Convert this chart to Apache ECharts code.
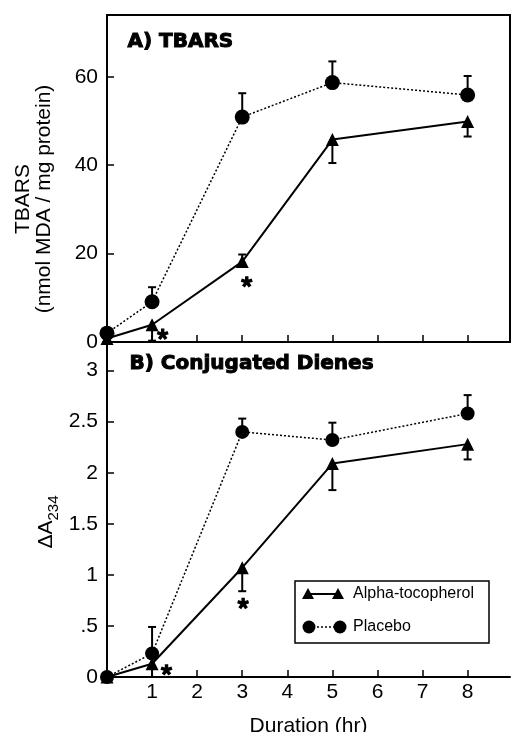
<!DOCTYPE html>
<html>
<head>
<meta charset="utf-8">
<script src="https://cdn.jsdelivr.net/npm/echarts@6/dist/echarts.min.js"></script>
<style>html,body{margin:0;padding:0;background:#fff;}#c{width:512px;height:732px;}</style>
</head>
<body>
<div id="c"></div>
<script>
const hours = [0, 1, 3, 5, 8];
const xTicks = [1, 2, 3, 4, 5, 6, 7, 8];
const tbarsTicks = [0, 20, 40, 60];
const dieneTicks = [0, 0.5, 1, 1.5, 2, 2.5, 3];

const tbarsPlacebo = [2.0, 9.1, 50.9, 58.7, 55.9];
const tbarsPlaceboErrEnd = [null, 12.4, 56.3, 63.5, 60.2];
const tbarsAlpha = [0.8, 3.9, 18.2, 45.8, 49.9];
const tbarsAlphaErrEnd = [null, 0.3, 19.8, 40.5, 46.5];

const dienePlacebo = [0, 0.23, 2.40, 2.32, 2.58];
const dienePlaceboErrEnd = [null, 0.49, 2.53, 2.49, 2.76];
const dieneAlpha = [0, 0.13, 1.07, 2.09, 2.28];
const dieneAlphaErrEnd = [null, 0.0, 0.84, 1.83, 2.13];

const tbarsStars = [[1.235, 1.75], [3.10, 13.6]];
const dieneStars = [[1.32, 0.07], [3.02, 0.72]];

const FONT = '"Liberation Sans", Arial, Helvetica, sans-serif';
const pairs = (vals) => hours.map((h, i) => [h, vals[i]]);
const errData = (vals, ends) => hours.map((h, i) => [h, vals[i], ends[i]]).filter(d => d[2] !== null);

// five-spoke bold asterisk glyph as a symbol path
function asteriskPath() {
  const h = 0.3; let s = '';
  for (let k = 0; k < 5; k++) {
    const t = (-90 + 72 * k) * Math.PI / 180;
    const dx = Math.cos(t), dy = Math.sin(t), nx = -dy, ny = dx;
    const pts = [[h * nx, h * ny], [dx + h * nx, dy + h * ny], [dx - h * nx, dy - h * ny], [-h * nx, -h * ny]]
      .map(p => [(p[0] * 10 + 10).toFixed(2), (p[1] * 10 + 10).toFixed(2)]);
    s += 'M' + pts[0].join(' ') + 'L' + pts[1].join(' ') + 'L' + pts[2].join(' ') + 'L' + pts[3].join(' ') + 'Z';
  }
  return 'path://' + s;
}
const STAR = asteriskPath();

function errRender(params, api) {
  const p0 = api.coord([api.value(0), api.value(1)]);
  const p1 = api.coord([api.value(0), api.value(2)]);
  return {
    type: 'group',
    children: [
      { type: 'line', shape: { x1: p0[0], y1: p0[1], x2: p1[0], y2: p1[1] }, style: { stroke: '#000', lineWidth: 2 } },
      { type: 'line', shape: { x1: p1[0] - 4, y1: p1[1], x2: p1[0] + 4, y2: p1[1] }, style: { stroke: '#000', lineWidth: 2 } }
    ]
  };
}

const axisLine = { show: true, lineStyle: { color: '#000', width: 2 } };
const tickStyle = { show: true, inside: true, length: 7, lineStyle: { color: '#000', width: 1.5 } };
const XMAX = 8.94;

const placeboLine = { color: '#000', width: 1.5, type: [2, 2] };
const alphaLine = { color: '#000', width: 2, type: 'solid' };

const starSeries = (data, xi) => ({
  type: 'scatter', xAxisIndex: xi, yAxisIndex: xi, data: data,
  symbol: STAR, symbolSize: 12, symbolKeepAspect: true, itemStyle: { color: '#000', opacity: 1 },
  silent: true, z: 5
});

const option = {
  animation: false,
  backgroundColor: '#fff',
  grid: [
    { left: 107, right: 2, top: 15, height: 327, show: true, borderColor: '#000', borderWidth: 2, backgroundColor: 'rgba(0,0,0,0)', outerBoundsMode: 'none', containLabel: false },
    { left: 107, right: 2, top: 342, height: 335, outerBoundsMode: 'none', containLabel: false }
  ],
  xAxis: [
    { type: 'value', gridIndex: 0, min: 0, max: XMAX, axisLine: axisLine, splitLine: { show: false },
      axisTick: Object.assign({}, tickStyle, { customValues: xTicks }), axisLabel: { show: false } },
    { type: 'value', gridIndex: 1, min: 0, max: XMAX, axisLine: axisLine, splitLine: { show: false },
      axisTick: Object.assign({}, tickStyle, { customValues: xTicks }),
      axisLabel: { customValues: xTicks, color: '#000', fontFamily: FONT, fontSize: 21, margin: 5 },
      name: 'Duration (hr)', nameLocation: 'middle', nameGap: 39,
      nameTextStyle: { color: '#000', fontFamily: FONT, fontSize: 21 } }
  ],
  yAxis: [
    { type: 'value', gridIndex: 0, min: 0, max: 74, axisLine: axisLine, splitLine: { show: false },
      axisTick: Object.assign({}, tickStyle, { customValues: tbarsTicks.slice(1) }),
      axisLabel: { customValues: tbarsTicks, color: '#000', fontFamily: FONT, fontSize: 21, margin: 9 } },
    { type: 'value', gridIndex: 1, min: 0, max: 3.28, axisLine: axisLine, splitLine: { show: false },
      axisTick: Object.assign({}, tickStyle, { customValues: dieneTicks.slice(1) }),
      axisLabel: { customValues: dieneTicks, color: '#000', fontFamily: FONT, fontSize: 21, margin: 9,
        formatter: v => (v > 0 && v < 1) ? String(v).replace(/^0/, '') : String(v) } }
  ],
  series: [
    { type: 'custom', xAxisIndex: 0, yAxisIndex: 0, renderItem: errRender, encode: { x: 0, y: [1, 2] }, data: errData(tbarsPlacebo, tbarsPlaceboErrEnd), z: 2, silent: true },
    { type: 'custom', xAxisIndex: 0, yAxisIndex: 0, renderItem: errRender, encode: { x: 0, y: [1, 2] }, data: errData(tbarsAlpha, tbarsAlphaErrEnd), z: 2, silent: true },
    { type: 'custom', xAxisIndex: 1, yAxisIndex: 1, renderItem: errRender, encode: { x: 0, y: [1, 2] }, data: errData(dienePlacebo, dienePlaceboErrEnd), z: 2, silent: true },
    { type: 'custom', xAxisIndex: 1, yAxisIndex: 1, renderItem: errRender, encode: { x: 0, y: [1, 2] }, data: errData(dieneAlpha, dieneAlphaErrEnd), z: 2, silent: true },
    { name: 'Alpha-tocopherol', type: 'line', xAxisIndex: 0, yAxisIndex: 0, data: pairs(tbarsAlpha), symbol: 'triangle', symbolSize: 13,
      itemStyle: { color: '#000' }, lineStyle: alphaLine, z: 3 },
    { name: 'Placebo', type: 'line', xAxisIndex: 0, yAxisIndex: 0, data: pairs(tbarsPlacebo), symbol: 'circle', symbolSize: 15,
      itemStyle: { color: '#000' }, lineStyle: placeboLine, z: 4 },
    { name: 'Alpha-tocopherol', type: 'line', xAxisIndex: 1, yAxisIndex: 1, data: pairs(dieneAlpha), symbol: 'triangle', symbolSize: 13,
      itemStyle: { color: '#000' }, lineStyle: alphaLine, z: 3 },
    { name: 'Placebo', type: 'line', xAxisIndex: 1, yAxisIndex: 1, data: pairs(dienePlacebo), symbol: 'circle', symbolSize: 14,
      itemStyle: { color: '#000' }, lineStyle: placeboLine, z: 4 },
    starSeries(tbarsStars, 0),
    starSeries(dieneStars, 1)
  ],
  graphic: [
    { type: 'text', left: 127, top: 31, style: { text: 'A) TBARS', font: 'bold 20px "DejaVu Sans", sans-serif', fill: '#000', stroke: '#000', lineWidth: 1 } },
    { type: 'text', left: 129, top: 353, style: { text: 'B) Conjugated Dienes', font: 'bold 20px "DejaVu Sans", sans-serif', fill: '#000', stroke: '#000', lineWidth: 1 } },
    { type: 'text', x: 34, y: 199, rotation: Math.PI / 2,
      style: { text: 'TBARS\n(nmol MDA / mg protein)', font: '21px ' + FONT, fill: '#000', align: 'center', verticalAlign: 'middle', lineHeight: 21 } },
    { type: 'text', x: 45, y: 522, rotation: Math.PI / 2,
      style: { text: '{a|ΔA}{s|234}', fill: '#000', align: 'center', verticalAlign: 'middle',
        rich: { a: { fontFamily: FONT, fontSize: 21, lineHeight: 24, verticalAlign: 'bottom' },
                s: { fontFamily: FONT, fontSize: 15, lineHeight: 14, verticalAlign: 'bottom', padding: [0, 0, -4, 0] } } } },
    { type: 'rect', shape: { x: 295, y: 581, width: 194, height: 62 }, style: { fill: '#fff', stroke: '#000', lineWidth: 1.5 }, z: 10 },
    { type: 'line', shape: { x1: 308, y1: 594, x2: 338, y2: 594 }, style: { stroke: '#000', lineWidth: 2 }, z: 11 },
    { type: 'polygon', shape: { points: [[308, 588], [302, 599], [314, 599]] }, style: { fill: '#000' }, z: 11 },
    { type: 'polygon', shape: { points: [[338, 588], [332, 599], [344, 599]] }, style: { fill: '#000' }, z: 11 },
    { type: 'text', x: 353, y: 594, style: { text: 'Alpha-tocopherol', font: '16px ' + FONT, fill: '#000', verticalAlign: 'middle' }, z: 11 },
    { type: 'line', shape: { x1: 309, y1: 627, x2: 340, y2: 627 }, style: { stroke: '#000', lineWidth: 1.5, lineDash: [2, 2] }, z: 11 },
    { type: 'circle', shape: { cx: 309, cy: 627, r: 6.5 }, style: { fill: '#000' }, z: 11 },
    { type: 'circle', shape: { cx: 340, cy: 627, r: 6.5 }, style: { fill: '#000' }, z: 11 },
    { type: 'text', x: 353, y: 627, style: { text: 'Placebo', font: '16px ' + FONT, fill: '#000', verticalAlign: 'middle' }, z: 11 }
  ]
};

const chart = echarts.init(document.getElementById('c'), null, { renderer: 'canvas' });
chart.setOption(option);
</script>
</body>
</html>
